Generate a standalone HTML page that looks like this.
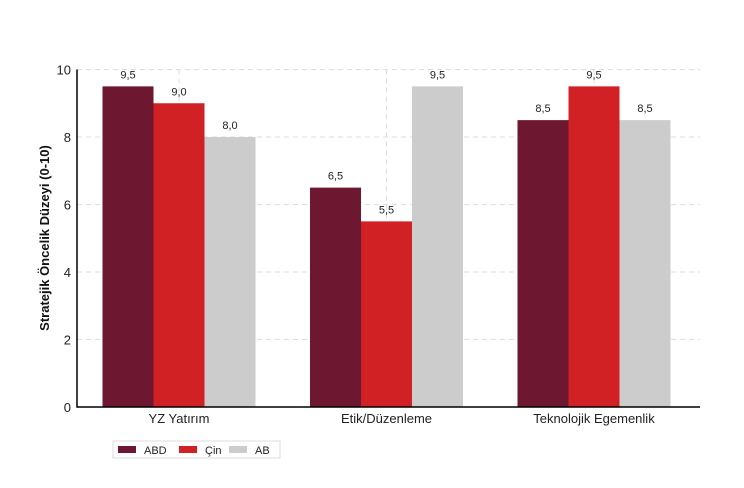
<!DOCTYPE html>
<html><head><meta charset="utf-8"><style>
body{margin:0;background:#fff;font-family:"Liberation Sans",sans-serif;}
svg{display:block}
</style></head><body>
<svg width="744" height="488" id="c" font-family="Liberation Sans, sans-serif"></svg>
<script>
const categories=["YZ Yatırım","Etik/Düzenleme","Teknolojik Egemenlik"];
const seriesNames=["ABD","Çin","AB"];
const abd=[9.5,6.5,8.5];
const cin=[9.0,5.5,9.5];
const ab=[8.0,9.5,8.5];
const yTicks=[0,2,4,6,8,10];
const colors=["#6e1730","#d12124","#cccccc"];
const svg=document.getElementById('c');
const NS="http://www.w3.org/2000/svg";
const x0=77,x1=700,y0=407,yTop=69.5;
const y=v=>y0-(y0-yTop)*v/10;
const cx=i=>179+i*207.5;
const bw=51;
function mk(t,a,p){const e=document.createElementNS(NS,t);for(const k in a)e.setAttribute(k,a[k]);(p||svg).appendChild(e);return e;}
yTicks.forEach(t=>{
 if(t>0){const g=mk('line',{x1:x0,x2:x1,y1:y(t),y2:y(t),stroke:'#ddd','stroke-dasharray':'5,4'});
 
 }
 const l=mk('text',{x:x0-6,y:y(t)+5,'text-anchor':'end','font-size':13,fill:'#222'});l.textContent=t;
 
 
});
categories.forEach((c,i)=>{
 const g=mk('line',{x1:cx(i),x2:cx(i),y1:yTop,y2:y0,stroke:'#ddd','stroke-dasharray':'5,4'});
 
 
 [abd,cin,ab].forEach((s,j)=>{
  const bx=cx(i)+(j-1.5)*bw;
  const r=mk('rect',{x:bx,y:y(s[i]),width:bw,height:y0-y(s[i]),fill:colors[j]});
  
  
  const t=mk('text',{x:bx+bw/2,y:y(s[i])-8,'text-anchor':'middle','font-size':11,fill:'#222'});
  t.textContent=s[i].toFixed(1).replace('.',',');
  
  
 });
 const l=mk('text',{x:cx(i),y:423,'text-anchor':'middle','font-size':13,fill:'#222'});l.textContent=c;
 
 
});
const ax=mk('path',{d:`M${x0} ${yTop}V${y0}H${x1}`,stroke:'#000','stroke-width':1.5,fill:'none'});


const yt=mk('text',{transform:'translate(49,238) rotate(-90)','text-anchor':'middle','font-size':13,'font-weight':'bold',fill:'#111'});
yt.textContent='Stratejik Öncelik Düzeyi (0-10)';


const lg=mk('rect',{x:113,y:441,width:167,height:17,fill:'#fff',stroke:'#ddd'});


const lx=[118,179,229];
seriesNames.forEach((n,j)=>{
 const r=mk('rect',{x:lx[j],y:446,width:18,height:7,fill:colors[j]});
 
 
 const t=mk('text',{x:lx[j]+26,y:454,'font-size':11,fill:'#222'});t.textContent=n;
 
 
});
</script>
</body></html>
